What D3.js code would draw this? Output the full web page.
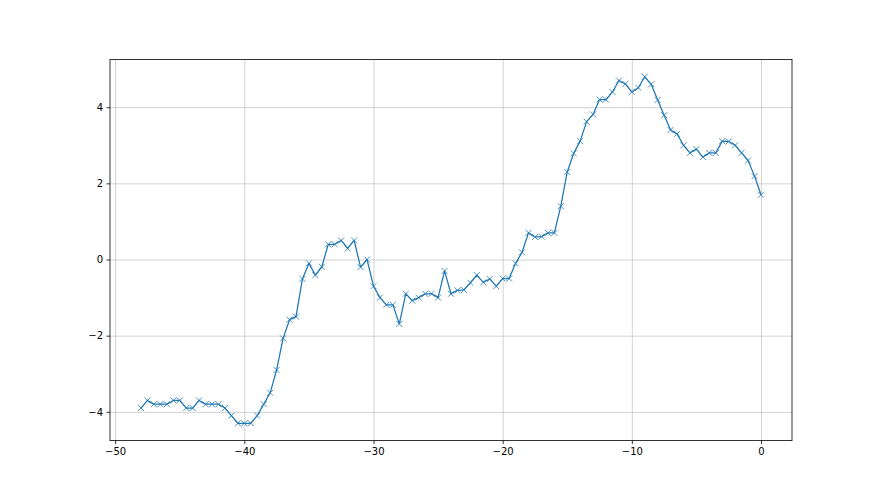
<!DOCTYPE html>
<html>
<head>
<meta charset="utf-8">
<title>Line chart</title>
<style>
  body { margin: 0; background: #fff; }
  .tick text { font: 10px "DejaVu Sans", sans-serif; fill: #000; }
  .grid line { stroke: #b0b0b0; stroke-opacity: 0.7; stroke-width: 0.8; }
  .grid .domain { display: none; }
</style>
<script src="https://d3js.org/d3.v7.min.js"></script>
</head>
<body>
<svg width="880" height="495"></svg>
<script>
// x positions: -48 .. 0 in steps of 0.5
var xs = [-48, -47.5, -47, -46.5, -46, -45.5, -45, -44.5, -44, -43.5, -43, -42.5, -42, -41.5, -41, -40.5,
          -40, -39.5, -39, -38.5, -38, -37.5, -37, -36.5, -36, -35.5, -35, -34.5, -34, -33.5, -33, -32.5,
          -32, -31.5, -31, -30.5, -30, -29.5, -29, -28.5, -28, -27.5, -27, -26.5, -26, -25.5, -25, -24.5,
          -24, -23.5, -23, -22.5, -22, -21.5, -21, -20.5, -20, -19.5, -19, -18.5, -18, -17.5, -17, -16.5,
          -16, -15.5, -15, -14.5, -14, -13.5, -13, -12.5, -12, -11.5, -11, -10.5, -10, -9.5, -9, -8.5,
          -8, -7.5, -7, -6.5, -6, -5.5, -5, -4.5, -4, -3.5, -3, -2.5, -2, -1.5, -1, -0.5, 0];

var ys = [-3.9, -3.7, -3.8, -3.8, -3.8, -3.7, -3.7, -3.9, -3.9, -3.7, -3.8, -3.8, -3.8, -3.9, -4.1, -4.3,
          -4.3, -4.3, -4.1, -3.8, -3.5, -2.9, -2.07, -1.58, -1.5, -0.51, -0.1, -0.41, -0.19, 0.4, 0.4, 0.5,
          0.29, 0.5, -0.2, 0.0, -0.7, -1.0, -1.19, -1.19, -1.69, -0.9, -1.08, -1.0, -0.9, -0.9, -1.0, -0.3,
          -0.9, -0.81, -0.8, -0.61, -0.41, -0.6, -0.51, -0.7, -0.5, -0.5, -0.1, 0.19, 0.7, 0.59, 0.6, 0.7,
          0.7, 1.4, 2.3, 2.79, 3.11, 3.62, 3.81, 4.2, 4.2, 4.4, 4.7, 4.61, 4.4, 4.51, 4.8, 4.6,
          4.19, 3.79, 3.4, 3.3, 3.0, 2.8, 2.9, 2.69, 2.8, 2.8, 3.11, 3.1, 3.0, 2.8, 2.6, 2.19, 1.7];

var xTicks = [-50, -40, -30, -20, -10, 0];
var yTicks = [-4, -2, 0, 2, 4];

var data = xs.map(function(x, i) { return {x: x, y: ys[i]}; });

var svg = d3.select("svg");
var padLeft = 110, padRight = 792, padTop = 59.4, padBottom = 440.6;

// matplotlib style 5% margins
var xmin = d3.min(xs), xmax = d3.max(xs), xpad = (xmax - xmin) * 0.05;
var ymin = d3.min(ys), ymax = d3.max(ys), ypad = (ymax - ymin) * 0.05;

var x = d3.scaleLinear().domain([xmin - xpad, xmax + xpad]).range([padLeft, padRight]);
var y = d3.scaleLinear().domain([ymin - ypad, ymax + ypad]).range([padBottom, padTop]);

var minus = function(d) { return String(d).replace("-", "\u2212"); };

// grid
svg.append("g").attr("class", "grid")
    .attr("transform", "translate(0," + padBottom + ")")
    .call(d3.axisBottom(x).tickValues(xTicks).tickSize(-(padBottom - padTop)).tickFormat(""));
svg.append("g").attr("class", "grid")
    .attr("transform", "translate(" + padLeft + ",0)")
    .call(d3.axisLeft(y).tickValues(yTicks).tickSize(-(padRight - padLeft)).tickFormat(""));

// line
svg.append("path")
    .datum(data)
    .attr("fill", "none")
    .attr("stroke", "#1f77b4")
    .attr("stroke-width", 1.25)
    .attr("stroke-linejoin", "round")
    .attr("d", d3.line().x(function(d) { return x(d.x); }).y(function(d) { return y(d.y); }));

// x markers
var s = 3;
svg.append("g").selectAll("path")
    .data(data)
    .enter().append("path")
    .attr("fill", "none")
    .attr("stroke", "#1f77b4")
    .attr("stroke-width", 0.8)
    .attr("d", function(d) {
        var cx = x(d.x), cy = y(d.y);
        return "M" + (cx - s) + "," + (cy - s) + "L" + (cx + s) + "," + (cy + s) +
               "M" + (cx - s) + "," + (cy + s) + "L" + (cx + s) + "," + (cy - s);
    });

// frame
svg.append("rect")
    .attr("x", padLeft).attr("y", padTop)
    .attr("width", padRight - padLeft).attr("height", padBottom - padTop)
    .attr("fill", "none").attr("stroke", "#000").attr("stroke-width", 0.8);

// axes
var xAxis = svg.append("g")
    .attr("transform", "translate(0," + padBottom + ")")
    .call(d3.axisBottom(x).tickValues(xTicks).tickSize(3.5).tickPadding(3.5).tickFormat(minus));
var yAxis = svg.append("g")
    .attr("transform", "translate(" + padLeft + ",0)")
    .call(d3.axisLeft(y).tickValues(yTicks).tickSize(3.5).tickPadding(3.5).tickFormat(minus));
[xAxis, yAxis].forEach(function(a) {
    a.select(".domain").remove();
    a.selectAll(".tick line").attr("stroke", "#000").attr("stroke-width", 0.8);
});
</script>
</body>
</html>
